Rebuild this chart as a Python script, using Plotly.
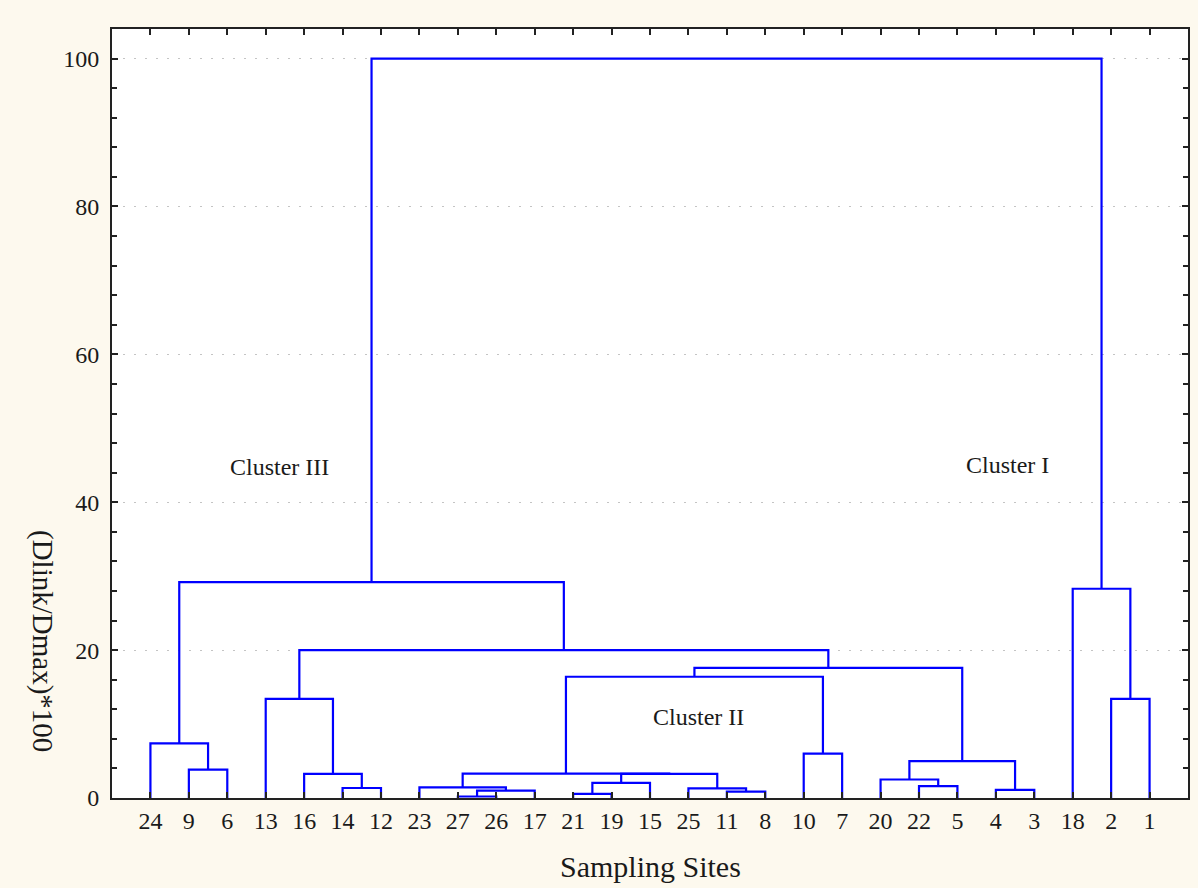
import plotly.graph_objects as go

# ---- data ----
leaf_labels = ["24", "9", "6", "13", "16", "14", "12", "23", "27", "26", "17", "21", "19", "15",
               "25", "11", "8", "10", "7", "20", "22", "5", "4", "3", "18", "2", "1"]

# merges (cluster m{k} is created by the k-th merge, 1-based)
merge_left = ["27", "21", "11", "14", "m1", "23", "25", "m2", "22", "20", "4", "m10", "16",
              "13", "9", "24", "m8", "m6", "10", "m18", "m20", "m14", "m16", "2", "18", "m23"]
merge_right = ["26", "19", "8", "12", "17", "m5", "m3", "15", "5", "m9", "3", "m11", "m4",
               "m13", "6", "m15", "m7", "m17", "7", "m19", "m12", "m21", "m22", "1", "m24", "m25"]
merge_height = [0.2, 0.55, 0.85, 1.35, 1.0, 1.45, 1.3, 2.05, 1.6, 2.5, 1.1, 5.0, 3.25,
                13.4, 3.85, 7.4, 3.25, 3.3, 6.0, 16.4, 17.6, 20.0, 29.2, 13.4, 28.3, 100.0]

cluster_labels = ["Cluster III", "Cluster II", "Cluster I"]
cluster_label_x = [4.35, 15.25, 23.3]
cluster_label_y = [44.8, 11.0, 45.0]

y_ticks = [0, 20, 40, 60, 80, 100]

# ---- dendrogram geometry from the merge table ----
pos = {lab: i + 1 for i, lab in enumerate(leaf_labels)}
hgt = {lab: 0.0 for lab in leaf_labels}
xs, ys = [], []
for k, (a, b, h) in enumerate(zip(merge_left, merge_right, merge_height), start=1):
    xa, xb = pos[a], pos[b]
    xs += [xa, xa, xb, xb, None]
    ys += [hgt[a], h, h, hgt[b], None]
    name = f"m{k}"
    pos[name] = (xa + xb) / 2
    hgt[name] = h

SERIF = "Liberation Serif, Times New Roman, serif"
TXT = "#1a1a1a"

fig = go.Figure()
fig.add_trace(go.Scatter(x=xs, y=ys, mode="lines",
                         line=dict(color="#0000ff", width=2.2),
                         hoverinfo="skip", showlegend=False))

for t, x, y in zip(cluster_labels, cluster_label_x, cluster_label_y):
    fig.add_annotation(x=x, y=y, text=t, showarrow=False,
                       font=dict(family=SERIF, size=24, color=TXT))

fig.add_annotation(xref="paper", yref="paper", x=0.5, y=-0.0897, text="Sampling Sites",
                   showarrow=False, xanchor="center", yanchor="middle",
                   font=dict(family=SERIF, size=30, color=TXT))
fig.add_annotation(xref="paper", yref="paper", x=-0.064, y=0.204, text="(Dlink/Dmax)*100",
                   showarrow=False, xanchor="center", yanchor="middle", textangle=90,
                   font=dict(family=SERIF, size=29, color=TXT))

fig.update_layout(
    width=1198, height=888,
    margin=dict(l=112, r=8, t=29, b=90),
    paper_bgcolor="#fdf9ee",
    plot_bgcolor="#ffffff",
    showlegend=False,
    font=dict(family=SERIF, color=TXT),
)
fig.update_xaxes(
    range=[0, 28], tickmode="array",
    tickvals=list(range(1, len(leaf_labels) + 1)), ticktext=leaf_labels,
    ticks="inside", ticklen=6, tickwidth=2, tickcolor="#222",
    showline=True, linecolor="#222", linewidth=2, mirror="ticks",
    showgrid=False, zeroline=False,
    tickfont=dict(family=SERIF, size=24, color=TXT),
)
fig.update_yaxes(
    range=[0, 104], tickmode="array", tickvals=y_ticks,
    ticks="inside", ticklen=6, tickwidth=2, tickcolor="#222",
    showline=True, linecolor="#222", linewidth=2, mirror="ticks",
    showgrid=True, gridcolor="#c4c4c4", gridwidth=1, griddash="2px,9px",
    zeroline=False,
    minor=dict(dtick=4, tick0=0, ticks="inside", ticklen=5, tickwidth=2,
               tickcolor="#222", showgrid=False),
    tickfont=dict(family=SERIF, size=24, color=TXT),
    ticklabelstandoff=6,
)

fig.write_html("out.html")
